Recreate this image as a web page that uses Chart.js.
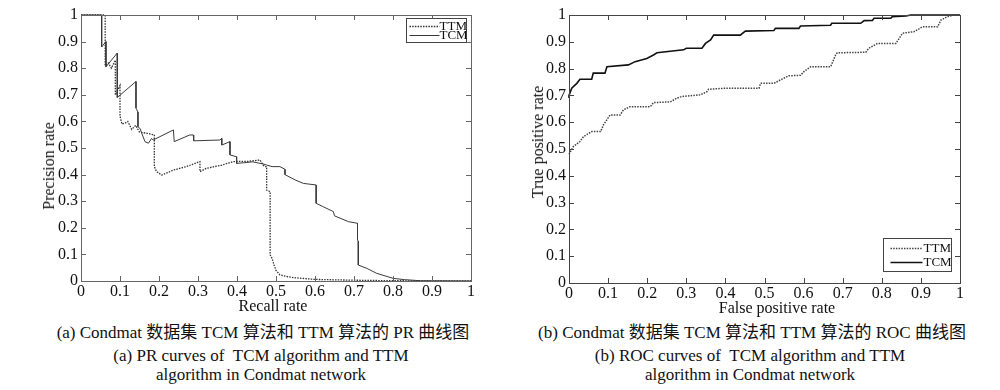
<!DOCTYPE html>
<html><head><meta charset="utf-8">
<script src="https://cdn.jsdelivr.net/npm/chart.js@4.4.1/dist/chart.umd.min.js"></script>
<style>
html,body{margin:0;padding:0;background:#fff;width:1000px;height:390px;overflow:hidden;}
canvas{position:absolute;top:0;}
#c1{left:0;} #c2{left:500px;}
.t{position:absolute;font-family:"Liberation Serif","Noto Sans CJK SC",serif;color:#111;white-space:nowrap;}
.cap{text-align:center;width:500px;}
.rot{transform:translate(-50%,-50%) rotate(-90deg);}
.xt{transform:translate(-50%,-50%);}
</style></head><body>
<canvas id="c1" width="500" height="320"></canvas>
<canvas id="c2" width="500" height="320"></canvas>

<div class="t rot" style="left:49px;top:166px;font-size:16px">Precision rate</div>
<div class="t xt" style="left:273px;top:306px;font-size:16px">Recall rate</div>
<div class="t rot" style="left:538px;top:142px;font-size:16px">True positive rate</div>
<div class="t xt" style="left:777px;top:308px;font-size:16px">False positive rate</div>

<div class="t cap" style="left:13px;top:324px;font-size:17px;line-height:18px">(a) Condmat 数据集 TCM 算法和 TTM 算法的 PR 曲线图</div>
<div class="t cap" style="left:11px;top:347px;font-size:17px;line-height:18.5px">(a) PR curves of &nbsp;TCM algorithm and TTM<br>algorithm in Condmat network</div>
<div class="t cap" style="left:502px;top:324px;font-size:17px;line-height:18px">(b) Condmat 数据集 TCM 算法和 TTM 算法的 ROC 曲线图</div>
<div class="t cap" style="left:500px;top:347px;font-size:17px;line-height:18.5px">(b) ROC curves of &nbsp;TCM algorithm and TTM<br>algorithm in Condmat network</div>

<script>
// ---------- data ----------
const tickLabels = ['0','0.1','0.2','0.3','0.4','0.5','0.6','0.7','0.8','0.9','1'];
const seriesNames = ['TTM','TCM'];

// PR curves (Recall, Precision)
const prRecallTTM = [0,0.062,0.062,0.07,0.078,0.088,0.088,0.1,0.1,0.105,0.115,0.12,0.13,0.14,0.15,0.17,0.186,0.188,0.188,0.194,0.207,0.237,0.27,0.305,0.305,0.322,0.36,0.39,0.43,0.459,0.467,0.472,0.476,0.476,0.485,0.485,0.49,0.495,0.5,0.51,0.53,0.55,0.6,0.7,0.8,1];
const prPrecisionTTM = [1,1,0.81,0.82,0.80,0.83,0.70,0.735,0.62,0.59,0.595,0.60,0.57,0.585,0.56,0.555,0.55,0.55,0.43,0.411,0.398,0.417,0.43,0.449,0.411,0.424,0.435,0.449,0.45,0.455,0.436,0.43,0.43,0.342,0.336,0.098,0.085,0.06,0.04,0.023,0.016,0.012,0.006,0.003,0.001,0];
const prRecallTCM = [0,0.053,0.053,0.064,0.064,0.093,0.093,0.141,0.141,0.146,0.146,0.151,0.164,0.173,0.181,0.185,0.237,0.239,0.279,0.288,0.289,0.356,0.361,0.361,0.382,0.382,0.399,0.399,0.42,0.44,0.467,0.476,0.49,0.51,0.523,0.523,0.549,0.57,0.603,0.603,0.62,0.647,0.65,0.686,0.709,0.709,0.711,0.711,0.732,0.758,0.8,0.83,0.87,1];
const prPrecisionTCM = [1,1,0.88,0.90,0.805,0.857,0.69,0.75,0.65,0.635,0.58,0.574,0.524,0.518,0.536,0.53,0.568,0.524,0.549,0.549,0.527,0.53,0.536,0.511,0.524,0.474,0.467,0.442,0.445,0.448,0.44,0.436,0.43,0.43,0.42,0.4,0.38,0.367,0.361,0.292,0.28,0.261,0.245,0.223,0.217,0.154,0.15,0.06,0.048,0.029,0.01,0.005,0.001,0];

// ROC curves (False positive rate, True positive rate)
const rocFprTTM = [0,0.011,0.028,0.037,0.058,0.081,0.088,0.105,0.131,0.139,0.156,0.208,0.216,0.259,0.276,0.289,0.336,0.353,0.357,0.404,0.438,0.486,0.49,0.524,0.541,0.562,0.592,0.601,0.618,0.669,0.682,0.686,0.759,0.767,0.789,0.836,0.853,0.883,0.904,0.943,0.951,0.968,0.985,1];
const rocTprTTM = [0.48,0.509,0.528,0.546,0.565,0.565,0.59,0.627,0.627,0.646,0.658,0.658,0.673,0.676,0.69,0.696,0.702,0.714,0.723,0.727,0.727,0.727,0.745,0.745,0.758,0.773,0.775,0.789,0.807,0.807,0.851,0.859,0.861,0.876,0.894,0.894,0.932,0.938,0.956,0.956,0.981,0.994,1,1];
const rocFprTCM = [0,0,0.007,0.02,0.028,0.058,0.062,0.092,0.097,0.152,0.169,0.199,0.216,0.225,0.293,0.30,0.34,0.349,0.362,0.37,0.438,0.451,0.524,0.528,0.588,0.592,0.669,0.672,0.746,0.755,0.776,0.78,0.823,0.827,0.862,0.874,1];
const rocTprTCM = [0.69,0.70,0.727,0.745,0.76,0.76,0.783,0.783,0.807,0.814,0.826,0.838,0.851,0.859,0.87,0.876,0.876,0.894,0.907,0.925,0.925,0.94,0.942,0.95,0.95,0.959,0.962,0.969,0.969,0.979,0.98,0.988,0.988,0.994,0.996,1,1];

// ---------- helpers ----------
const pts = (xs, ys) => xs.map((x, i) => ({x: x, y: ys[i]}));
const FONT = '"Liberation Serif", serif';

const framePlugin = {
  id: 'frame',
  afterDatasetsDraw(chart, args, o) {
    const ctx = chart.ctx, ca = chart.chartArea;
    ctx.save();
    ctx.strokeStyle = o.color; ctx.lineWidth = 1;
    ctx.strokeRect(Math.round(ca.left) + 0.5, Math.round(ca.top) + 0.5,
                   Math.round(ca.right - ca.left), Math.round(ca.bottom - ca.top));
    const L = o.tick;
    const xs = chart.scales.x, ys = chart.scales.y;
    ctx.beginPath();
    xs.ticks.forEach((t, i) => {
      const p = Math.round(xs.getPixelForTick(i)) + 0.5;
      ctx.moveTo(p, ca.bottom); ctx.lineTo(p, ca.bottom - L);
      ctx.moveTo(p, ca.top); ctx.lineTo(p, ca.top + L);
    });
    ys.ticks.forEach((t, i) => {
      const p = Math.round(ys.getPixelForTick(i)) + 0.5;
      ctx.moveTo(ca.left, p); ctx.lineTo(ca.left + L, p);
      ctx.moveTo(ca.right, p); ctx.lineTo(ca.right - L, p);
    });
    ctx.stroke();
    // legend
    const lg = o.legend;
    const bx = Math.round(ca.right - lg.right - lg.w) + 0.5;
    const by = Math.round(lg.anchor === 'top' ? ca.top + lg.off : ca.bottom - lg.off - lg.h) + 0.5;
    ctx.fillStyle = '#fff';
    ctx.fillRect(bx, by, lg.w, lg.h);
    ctx.strokeStyle = lg.border; ctx.lineWidth = 1;
    ctx.strokeRect(bx, by, lg.w, lg.h);
    ctx.font = lg.font + 'px ' + FONT;
    ctx.textBaseline = 'middle'; ctx.textAlign = 'left';
    chart.data.datasets.forEach((ds, i) => {
      const cy = Math.round(by + lg.rows[i]) + 0.5;
      ctx.save();
      ctx.strokeStyle = ds.borderColor; ctx.lineWidth = ds.borderWidth;
      ctx.setLineDash(ds.borderDash || []);
      ctx.beginPath(); ctx.moveTo(bx + lg.l0, cy); ctx.lineTo(bx + lg.l1, cy); ctx.stroke();
      ctx.restore();
      ctx.fillStyle = '#111';
      ctx.fillText(ds.label, bx + lg.tx, cy + 0.5);
    });
    ctx.restore();
  }
};

function makeChart(id, datasets, cfg) {
  const axis = (w, isY) => ({
    type: 'linear', min: 0, max: 1,
    grid: {display: false, drawTicks: false},
    border: {display: false},
    ticks: {
      stepSize: 0.1, autoSkip: false, maxRotation: 0,
      padding: isY ? cfg.yPad : cfg.xPad,
      color: '#111',
      font: {family: FONT, size: 16},
      callback: (v, i) => tickLabels[i]
    },
    afterFit: s => { if (isY) s.width = w; else s.height = w; }
  });
  return new Chart(document.getElementById(id), {
    type: 'line',
    data: {datasets: datasets},
    options: {
      responsive: false, animation: false, devicePixelRatio: 1,
      layout: {padding: {left: 0, top: 15, right: cfg.padRight, bottom: 0}},
      elements: {point: {radius: 0}, line: {tension: 0}},
      scales: {x: axis(cfg.xH, false), y: axis(cfg.yW, true)},
      plugins: {legend: {display: false}, tooltip: {enabled: false},
        frame: {color: cfg.frameColor, tick: 5, legend: cfg.legend}}
    },
    plugins: [framePlugin]
  });
}

makeChart('c1', [
  {label: seriesNames[0], data: pts(prRecallTTM, prPrecisionTTM), borderColor: '#333', borderWidth: 1.3, borderDash: [1.5, 1.2], fill: false, clip: false},
  {label: seriesNames[1], data: pts(prRecallTCM, prPrecisionTCM), borderColor: '#3a3a3a', borderWidth: 1, fill: false, clip: false}
], {padRight: 29, xH: 39, yW: 81, xPad: 1, yPad: 3, frameColor: '#666',
    legend: {anchor: 'top', right: 5, off: 3, w: 60, h: 24, rows: [7, 16.5], l0: 3, l1: 33, tx: 33, font: 13, border: '#444'}});

makeChart('c2', [
  {label: seriesNames[0], data: pts(rocFprTTM, rocTprTTM), borderColor: '#444', borderWidth: 1.5, borderDash: [1.5, 1.2], fill: false, clip: false},
  {label: seriesNames[1], data: pts(rocFprTCM, rocTprTCM), borderColor: '#111', borderWidth: 1.6, fill: false, clip: false}
], {padRight: 40, xH: 37, yW: 69, xPad: 1, yPad: 3, frameColor: '#444',
    legend: {anchor: 'bottom', right: 9, off: 12, w: 68, h: 33, rows: [9.5, 23.5], l0: 7, l1: 39, tx: 40, font: 13, border: '#444'}});
</script>
</body></html>
